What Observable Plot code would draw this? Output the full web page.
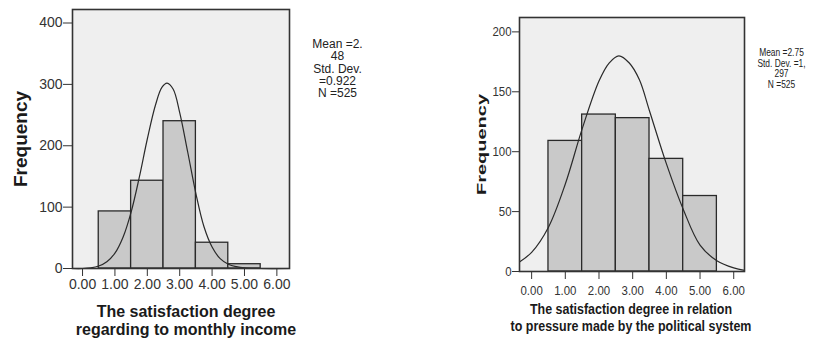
<!DOCTYPE html>
<html>
<head>
<meta charset="utf-8">
<script src="https://cdn.jsdelivr.net/npm/d3@7"></script>
<script src="https://cdn.jsdelivr.net/npm/@observablehq/plot@0.6"></script>
<style>
  html, body { margin: 0; padding: 0; background: #fff; }
  #wrap { display: flex; width: 821px; height: 340px; overflow: hidden; }
</style>
</head>
<body>
<div id="wrap"></div>
<script>
// ---- data ----
const categories = [1, 2, 3, 4, 5];
const leftCounts = [93, 143, 240, 42, 7];
const rightCounts = [109, 131, 128, 94, 63];

const xTicks = [0, 1, 2, 3, 4, 5, 6];
const leftYTicks = [0, 100, 200, 300, 400];
const rightYTicks = [0, 50, 100, 150, 200];

// normal curves as drawn in the picture
const leftCurveX = [-0.3, 0.0, 0.25, 0.5, 0.75, 1.0, 1.25, 1.5, 1.75, 2.0, 2.25, 2.45, 2.61, 2.8, 3.0, 3.25, 3.5, 3.75, 4.0, 4.25, 4.5, 4.75, 5.0, 5.5, 6.39];
const leftCurveY = [0, 0, 1, 4, 11, 25, 51, 92, 148, 211, 266, 295, 302, 292, 254, 189, 122, 68, 35, 16, 7, 3, 1, 0, 0];
const rightCurveX = [-0.36, 0, 0.5, 1.0, 1.5, 2.0, 2.3, 2.59, 2.9, 3.2, 3.5, 4.0, 4.5, 5.0, 5.5, 6.0, 6.32];
const rightCurveY = [8, 16, 37, 73, 119, 159, 174, 180, 174, 160, 134, 90, 52, 22, 9, 3, 1];

const leftTitle = "The satisfaction degree\nregarding to monthly income";
const rightTitle = "The satisfaction degree in relation\nto pressure made by the political system";
const leftStats = "Mean =2.\n48\nStd. Dev.\n=0.922\nN =525";
const rightStats = "Mean =2.75\nStd. Dev. =1,\n297\nN =525";
const yLabel = "Frequency";

// ---- tables ----
const leftBins = categories.map((c, i) => ({x1: c - 0.5, x2: c + 0.5, count: leftCounts[i]}));
const rightBins = categories.map((c, i) => ({x1: c - 0.5, x2: c + 0.5, count: rightCounts[i]}));
const leftCurve = leftCurveX.map((x, i) => ({x, y: leftCurveY[i]}));
const rightCurve = rightCurveX.map((x, i) => ({x, y: rightCurveY[i]}));

const font = "'Liberation Sans', Arial, Helvetica, sans-serif";

function histo(opts) {
  return Plot.plot({
    width: opts.width, height: 340,
    marginLeft: opts.ml, marginRight: opts.mr, marginTop: opts.mt, marginBottom: opts.mb,
    x: {domain: opts.xDomain, ticks: xTicks, tickFormat: d => d.toFixed(2), tickSize: 8, tickPadding: opts.xPad, label: null},
    y: {domain: opts.yDomain, ticks: opts.yTicks, tickSize: opts.yTickSize, tickPadding: 1, label: null},
    style: {fontFamily: font, fontSize: opts.tickFont, color: "#333", background: "white", overflow: "visible"},
    marks: [
      Plot.frame({fill: "#efefef"}),
      Plot.rectY(opts.bins, {x1: "x1", x2: "x2", y: "count", fill: "#c9c9c9", stroke: "#2a2a2a", strokeWidth: 1.3}),
      Plot.line(opts.curve, {x: "x", y: "y", curve: "catmull-rom", stroke: "#2a2a2a", strokeWidth: 1.2}),
      Plot.frame({stroke: "#333", strokeWidth: 1.6}),
      Plot.text([opts.title], {frameAnchor: "bottom", lineAnchor: "middle", dy: opts.titleDy, dx: opts.titleDx,
        fontSize: opts.titleFont, fontWeight: "bold", lineHeight: opts.titleLH, fill: "#1a1a1a"}),
      Plot.text([yLabel], {frameAnchor: "left", rotate: -90, dx: opts.freqDx, textAnchor: "middle",
        fontSize: opts.freqFont, fontWeight: "bold", fill: "#1a1a1a"}),
      Plot.text([opts.stats], {frameAnchor: "top-right", lineAnchor: "middle", textAnchor: "middle",
        dx: opts.statsDx, dy: opts.statsDy, fontSize: opts.statsFont, lineHeight: opts.statsLH, fill: "#222"})
    ]
  });
}

const left = histo({
  width: 410, ml: 72, mr: 121, mt: 9, mb: 72,
  xDomain: [-0.31, 6.39], yDomain: [0, 422], yTicks: leftYTicks, yTickSize: 9, xPad: 3,
  tickFont: "14px", bins: leftBins, curve: leftCurve,
  title: leftTitle, titleDy: 52, titleDx: 5, titleFont: 16, titleLH: 1.125,
  freqDx: -52, freqFont: 19,
  stats: leftStats, statsDx: 48, statsDy: 59, statsFont: 12, statsLH: 1.04
});

const right = histo({
  width: 411, ml: 109, mr: 77, mt: 17, mb: 69,
  xDomain: [-0.36, 6.32], yDomain: [0, 212], yTicks: rightYTicks, yTickSize: 7, xPad: 6,
  tickFont: "13px", bins: rightBins, curve: rightCurve,
  title: rightTitle, titleDy: 45.5, titleDx: -1, titleFont: 15, titleLH: 1.13,
  freqDx: -38, freqFont: 20,
  stats: rightStats, statsDx: 37, statsDy: 51, statsFont: 10.5, statsLH: 1.0
});

const wrap = document.getElementById("wrap");
wrap.appendChild(left);
wrap.appendChild(right);

// the right panel of the reference is horizontally condensed: squeeze its texts
function squeeze(el, k) {
  const w = el.getComputedTextLength();
  if (w > 0) {
    el.setAttribute("textLength", (w * k).toFixed(2));
    el.setAttribute("lengthAdjust", "spacingAndGlyphs");
  }
}
d3.select(right).selectAll("text").each(function () {
  const txt = this.textContent;
  if (txt === yLabel) {
    const t = this.getAttribute("transform") || "";
    this.setAttribute("transform", t + " scale(1,0.68)");
    return;
  }
  const tspans = this.querySelectorAll("tspan");
  const isStats = txt.startsWith("Mean");
  const isTitle = txt.startsWith("The satisfaction");
  const k = isStats ? 0.8 : isTitle ? 0.83 : 0.88;
  if (tspans.length) tspans.forEach(ts => squeeze(ts, k));
  else squeeze(this, k);
});
</script>
</body>
</html>
